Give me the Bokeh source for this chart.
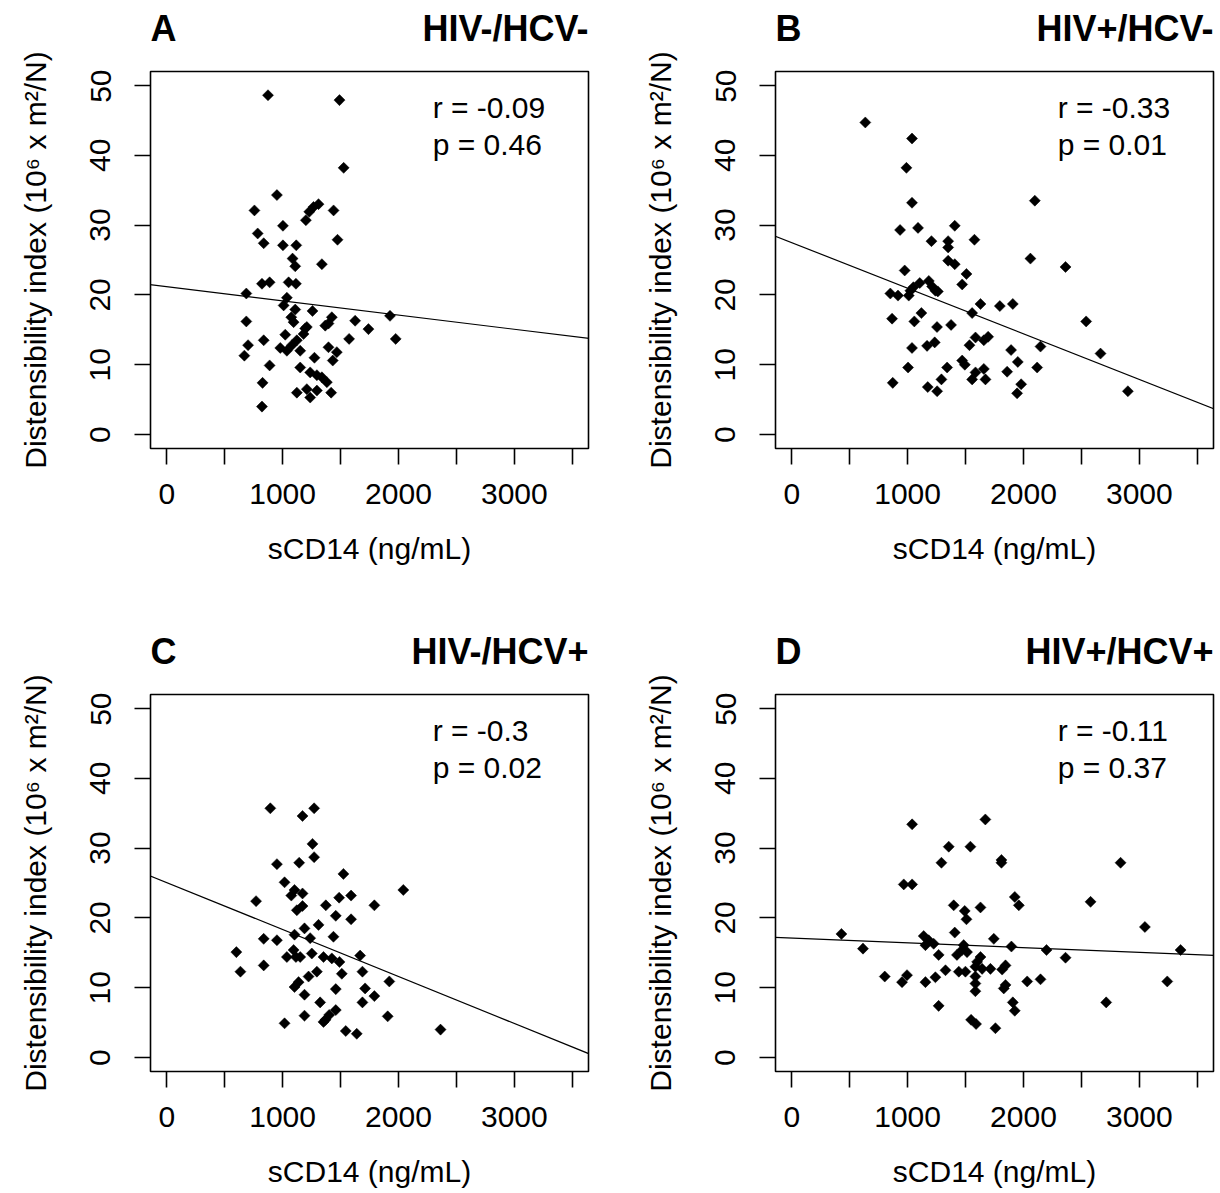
import numpy as np
from bokeh.plotting import figure
from bokeh.layouts import row, column
from bokeh.models import Range1d, FixedTicker, Label, Slope
from bokeh.embed import file_html
from bokeh.resources import INLINE

# ---------------- data ----------------
x_ticks = [0, 500, 1000, 1500, 2000, 2500, 3000, 3500]
x_tick_labels = ["0", "", "1000", "", "2000", "", "3000", ""]
y_ticks = [0, 10, 20, 30, 40, 50]
y_tick_labels = ["0", "10", "20", "30", "40", "50"]

panel_letters = ["A", "B", "C", "D"]
panel_groups = ["HIV-/HCV-", "HIV+/HCV-", "HIV-/HCV+", "HIV+/HCV+"]
r_values = ["-0.09", "-0.33", "-0.3", "-0.11"]
p_values = ["0.46", "0.01", "0.02", "0.37"]
fit_intercepts = [21.19, 27.49, 25.06, 17.10]
fit_slopes = [-0.002037, -0.006534, -0.006728, -0.000675]

a_scd14 = [874, 1491, 1527, 951, 757, 1440, 1310, 1267, 1230, 1201, 1003, 785, 837, 1003,
           1118, 1474, 1086, 1109, 1339, 822, 888, 1052, 1115, 687, 1037, 1009, 1109, 1258,
           1075, 1425, 1396, 1368, 1095, 1626, 1927, 1741, 687, 1209, 1181, 1023, 1976, 1574,
           837, 702, 1123, 1080, 980, 1037, 670, 1396, 1468, 1433, 1275, 888, 1152, 1238,
           1296, 1339, 1382, 827, 1123, 1209, 1238, 1296, 1419, 822, 1152, 1195]
a_dist = [48.6, 47.9, 38.2, 34.3, 32.1, 32.1, 33.0, 32.6, 31.9, 30.7, 29.9, 28.8, 27.4, 27.1,
          27.1, 27.9, 25.2, 24.1, 24.4, 21.6, 21.8, 21.8, 21.6, 20.2, 19.6, 18.5, 17.9, 17.7,
          16.8, 16.8, 15.9, 15.6, 16.1, 16.3, 17.0, 15.1, 16.2, 15.4, 14.4, 14.3, 13.7, 13.7,
          13.5, 12.8, 13.5, 12.8, 12.4, 12.0, 11.3, 12.5, 11.8, 10.6, 11.0, 9.9, 9.6, 8.9,
          8.5, 8.2, 7.5, 7.4, 6.0, 6.5, 5.3, 6.3, 6.0, 4.0, 12.0, 15.2]

b_scd14 = [635, 1038, 990, 1038, 2098, 935, 1090, 1407, 1206, 1350, 1350, 1577, 1350, 1407,
           2060, 2363, 1508, 1471, 975, 1105, 1183, 1050, 1212, 1261, 851, 917, 1010, 1024,
           1629, 1796, 1908, 1557, 866, 1058, 1119, 1254, 1375, 2541, 1038, 1168, 1234, 1534,
           1586, 1658, 1695, 2147, 2665, 1893, 1004, 1341, 1471, 1494, 1951, 2118, 1859, 1586,
           1658, 1557, 1672, 1292, 872, 1174, 1255, 1980, 1945, 2901, 1240]
b_dist = [44.7, 42.4, 38.2, 33.2, 33.5, 29.3, 29.6, 29.9, 27.7, 27.7, 26.8, 27.9, 24.9, 24.4,
          25.2, 24.0, 23.0, 21.5, 23.5, 21.7, 22.0, 21.1, 21.2, 20.5, 20.2, 19.9, 19.9, 20.6,
          18.7, 18.4, 18.7, 17.4, 16.6, 16.2, 17.4, 15.4, 15.7, 16.2, 12.4, 12.7, 13.2, 12.8,
          13.9, 13.5, 14.0, 12.6, 11.6, 12.1, 9.6, 9.6, 10.6, 10.0, 10.4, 9.6, 9.0, 8.9,
          9.4, 7.9, 7.9, 7.9, 7.4, 6.8, 6.2, 7.2, 5.9, 6.2, 20.6]

c_scd14 = [894, 1272, 1172, 1258, 1272, 951, 1143, 1525, 1017, 2042, 1103, 1075, 1172, 1488,
           1591, 771, 1373, 1792, 1172, 1123, 1459, 1591, 1310, 1189, 1103, 1238, 1439, 837,
           951, 601, 636, 837, 1037, 1095, 1152, 1252, 1353, 1425, 1491, 1669, 1511, 1689,
           1296, 1224, 1138, 1103, 1921, 1459, 1712, 1189, 1792, 1324, 1689, 1459, 1402, 1189,
           1353, 1907, 1017, 1545, 1640, 2363, 1115, 1370]
c_dist = [35.7, 35.7, 34.6, 30.6, 28.7, 27.7, 27.9, 26.3, 25.1, 24.0, 24.0, 23.2, 23.5, 22.9,
          23.2, 22.4, 21.8, 21.8, 21.7, 21.1, 20.3, 19.8, 19.0, 18.5, 17.6, 17.1, 17.3, 17.0,
          16.8, 15.1, 12.3, 13.2, 14.4, 15.4, 14.4, 14.9, 14.4, 14.2, 13.7, 14.6, 12.0, 12.3,
          12.3, 11.6, 10.8, 10.1, 10.9, 9.8, 9.9, 9.0, 8.8, 7.9, 7.9, 6.8, 6.1, 6.0,
          5.1, 5.9, 4.9, 3.8, 3.4, 4.0, 14.4, 5.4]

d_scd14 = [429, 615, 803, 952, 995, 967, 1039, 1039, 1355, 1542, 1671, 1292, 1810, 1810,
           1398, 1493, 1508, 1629, 1925, 1960, 2579, 2838, 3048, 3356, 3241, 2714, 2363, 2199,
           2147, 2032, 1896, 1744, 1407, 1139, 1182, 1225, 1154, 1268, 1426, 1484, 1470, 1513,
           1629, 1154, 1240, 1327, 1442, 1499, 1585, 1643, 1715, 1816, 1845, 1585, 1585, 1585,
           1830, 1845, 1908, 1925, 1268, 1548, 1591, 1758, 1600]
d_dist = [17.7, 15.6, 11.6, 10.8, 11.8, 24.8, 24.8, 33.4, 30.2, 30.2, 34.1, 27.9, 28.3, 27.9,
          21.8, 21.0, 19.8, 21.5, 23.0, 21.8, 22.3, 27.9, 18.7, 15.4, 10.9, 7.9, 14.3, 15.4,
          11.2, 10.9, 15.9, 17.0, 17.9, 17.4, 16.8, 16.3, 16.1, 14.7, 14.7, 16.1, 15.4, 15.1,
          14.4, 10.8, 11.5, 12.5, 12.3, 12.3, 13.0, 12.7, 12.7, 12.6, 13.2, 11.6, 10.6, 9.5,
          9.9, 10.4, 7.9, 6.7, 7.4, 5.4, 4.8, 4.2, 13.7]

panel_x = [a_scd14, b_scd14, c_scd14, d_scd14]
panel_y = [a_dist, b_dist, c_dist, d_dist]

x_label = "sCD14 (ng/mL)"
y_label = "Distensibility index (10\u2076 x m\u00b2/N)"

FONT = "Liberation Sans"
X0, X1 = -140, 3640
Y0, Y1 = -2, 52

LAB_W = [60, 65]          # width of the strip holding the y-axis title
COL_W = [560, 535]        # width of header / panel figures
COL_MBL = [90, 90]
COL_MBR = [32, 7]
HEADER_H = 69
ROW_H = [554, 501]
ROW_MBB = [175, 122]
FRAME_TOP = 71


def make_ylab(col, rw):
    f = figure(width=LAB_W[col], height=HEADER_H + ROW_H[rw],
               x_range=Range1d(0, 1), y_range=Range1d(Y0, Y1),
               output_backend="svg", toolbar_location=None,
               min_border_left=LAB_W[col] - 1, min_border_right=0,
               min_border_top=FRAME_TOP, min_border_bottom=ROW_MBB[rw],
               x_axis_location=None, y_axis_label=y_label)
    f.grid.visible = False
    f.outline_line_color = None
    f.background_fill_color = "white"
    f.border_fill_color = "white"
    ax = f.yaxis[0]
    ax.ticker = FixedTicker(ticks=[])
    ax.axis_line_color = None
    ax.major_tick_line_color = None
    ax.minor_tick_line_color = None
    ax.major_tick_in = 0
    ax.major_tick_out = 0
    ax.major_label_standoff = 0
    ax.major_label_text_font_size = "0px"
    ax.axis_label_standoff = 8
    ax.axis_label_text_font = FONT
    ax.axis_label_text_font_size = "30px"
    ax.axis_label_text_font_style = "normal"
    ax.axis_label_text_color = "black"
    return f


def make_header(i, col):
    h = figure(width=COL_W[col], height=HEADER_H,
               x_range=Range1d(X0, X1), y_range=Range1d(0, HEADER_H),
               output_backend="svg", toolbar_location=None,
               min_border_left=COL_MBL[col], min_border_right=COL_MBR[col],
               min_border_top=0, min_border_bottom=0,
               x_axis_location=None, y_axis_location=None)
    h.grid.visible = False
    h.outline_line_color = None
    h.background_fill_color = "white"
    h.border_fill_color = "white"
    h.add_layout(Label(x=X0, y=41, text=panel_letters[i],
                       text_font=FONT, text_font_size="36px", text_font_style="bold",
                       text_align="left", text_baseline="alphabetic", text_color="black"))
    h.add_layout(Label(x=X1, y=41, text=panel_groups[i],
                       text_font=FONT, text_font_size="36px", text_font_style="bold",
                       text_align="right", text_baseline="alphabetic", text_color="black"))
    return h


def make_panel(i, col, rw):
    p = figure(width=COL_W[col], height=ROW_H[rw],
               x_range=Range1d(X0, X1), y_range=Range1d(Y0, Y1),
               output_backend="svg", toolbar_location=None,
               min_border_left=COL_MBL[col], min_border_right=COL_MBR[col],
               min_border_top=2, min_border_bottom=ROW_MBB[rw],
               x_axis_label=x_label)
    p.grid.visible = False
    p.background_fill_color = "white"
    p.border_fill_color = "white"
    p.outline_line_color = "black"
    p.outline_line_width = 1.6
    p.outline_line_alpha = 1.0

    for ax in (p.xaxis[0], p.yaxis[0]):
        ax.axis_line_color = None
        ax.minor_tick_line_color = None
        ax.major_tick_in = 0
        ax.major_tick_out = 16
        ax.major_tick_line_color = "black"
        ax.major_tick_line_width = 1.6
        ax.major_label_text_font = FONT
        ax.major_label_text_font_size = "30px"
        ax.major_label_text_color = "black"
        ax.axis_label_text_font = FONT
        ax.axis_label_text_font_size = "30px"
        ax.axis_label_text_font_style = "normal"
        ax.axis_label_text_color = "black"

    p.xaxis.ticker = FixedTicker(ticks=x_ticks)
    p.xaxis.major_label_overrides = {t: l for t, l in zip(x_ticks, x_tick_labels)}
    p.xaxis.major_label_standoff = 19
    p.xaxis.axis_label_standoff = 25

    p.yaxis.ticker = FixedTicker(ticks=y_ticks)
    p.yaxis.major_label_overrides = {t: l for t, l in zip(y_ticks, y_tick_labels)}
    p.yaxis.major_label_orientation = "vertical"
    p.yaxis.major_label_standoff = 24

    p.add_layout(Slope(gradient=fit_slopes[i], y_intercept=fit_intercepts[i],
                       line_color="black", line_width=1.2))
    p.scatter(panel_x[i], panel_y[i], marker="square", angle=np.pi / 4,
              size=7.8, fill_color="black", line_color="black", line_width=0.5)

    p.add_layout(Label(x=2295, y=46.8, text="r = " + r_values[i],
                       text_font=FONT, text_font_size="30px",
                       text_align="left", text_baseline="alphabetic", text_color="black"))
    p.add_layout(Label(x=2295, y=41.5, text="p = " + p_values[i],
                       text_font=FONT, text_font_size="30px",
                       text_align="left", text_baseline="alphabetic", text_color="black"))
    return p


cells = []
for rw in range(2):
    items = []
    for col in range(2):
        i = rw * 2 + col
        items.append(make_ylab(col, rw))
        items.append(column(make_header(i, col), make_panel(i, col, rw), spacing=0))
    cells.append(row(*items, spacing=0))

layout = column(*cells, spacing=0)

open("out.html", "w").write(file_html(layout, INLINE))
